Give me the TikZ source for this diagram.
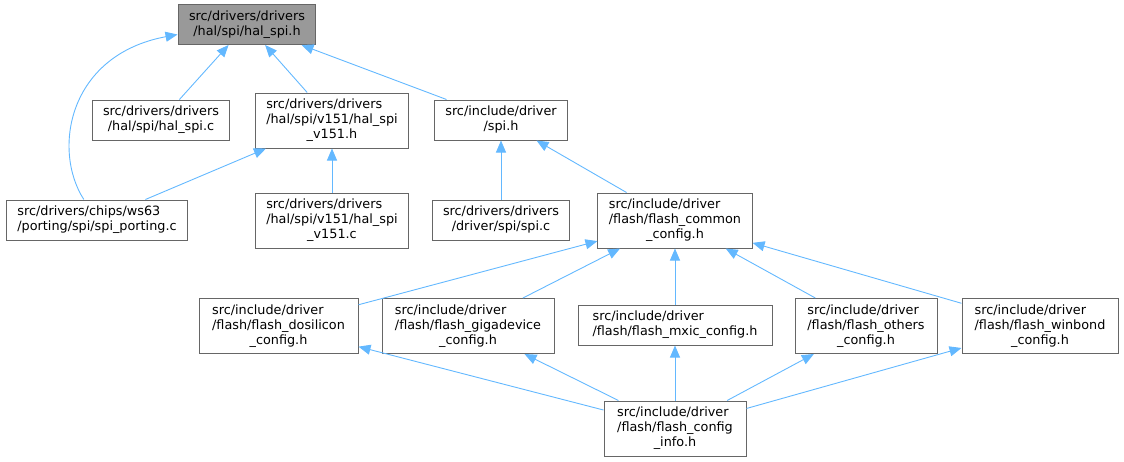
\documentclass[tikz,border=0pt]{standalone}
\usepackage{fontspec}
\setmainfont{DejaVu Sans}
\usepackage{tikz}
\usetikzlibrary{arrows.meta}
\definecolor{EdgeColor}{HTML}{63B8FF}
\definecolor{BorderColor}{HTML}{666666}
\definecolor{RootColor}{HTML}{999999}
\tikzstyle{file} = [draw=BorderColor, line width=1pt, fill=white, inner xsep=11pt, inner ysep=5pt, font=\fontsize{12.8}{15}\selectfont]
\tikzstyle{root} = [file, fill=RootColor]
\tikzstyle{arrow} = [EdgeColor, line width=0.9pt, -{Triangle[length=12pt, width=10pt]}]
% left lines, last line centred
\newcommand{\fname}[2]{\begin{tabular}{@{}l@{}}#1\\\multicolumn{1}{@{}c@{}}{#2}\end{tabular}}

\begin{document}
\begin{tikzpicture}[x=1pt, y=-1pt]
    \useasboundingbox (0,0) rectangle (1124,461);
    % Include graph of hal_spi.h
    \node[root] (halspih) at (247,24.5) {\fname{src/drivers/drivers}{/hal/spi/hal\_spi.h}};

    \node[file] (halspic) at (161,120) {\fname{src/drivers/drivers}{/hal/spi/hal\_spi.c}};
    \node[file] (v151h) at (332,120.5) {\fname{src/drivers/drivers\\/hal/spi/v151/hal\_spi}{\_v151.h}};
    \node[file] (spih) at (501,120) {\fname{src/include/driver}{/spi.h}};

    \node[file] (porting) at (97,220) {\fname{src/drivers/chips/ws63}{/porting/spi/spi\_porting.c}};
    \node[file] (v151c) at (332,220.5) {\fname{src/drivers/drivers\\/hal/spi/v151/hal\_spi}{\_v151.c}};
    \node[file] (spic) at (501,220) {\fname{src/drivers/drivers}{/driver/spi/spi.c}};
    \node[file] (common) at (675,220.5) {\fname{src/include/driver\\/flash/flash\_common}{\_config.h}};

    \node[file, minimum width=159pt] (dosilicon) at (278.5,326) {\fname{src/include/driver\\/flash/flash\_dosilicon}{\_config.h}};
    \node[file, minimum width=172pt] (gigadevice) at (468,326) {\fname{src/include/driver\\/flash/flash\_gigadevice}{\_config.h}};
    \node[file, minimum width=194pt] (mxic) at (675,325) {\fname{src/include/driver}{/flash/flash\_mxic\_config.h}};
    \node[file, minimum width=142pt] (others) at (866,326) {\fname{src/include/driver\\/flash/flash\_others}{\_config.h}};
    \node[file, minimum width=156pt] (winbond) at (1040,326) {\fname{src/include/driver\\/flash/flash\_winbond}{\_config.h}};

    \node[file, minimum width=142pt] (info) at (675,428.5) {\fname{src/include/driver\\/flash/flash\_config}{\_info.h}};

    % edges point to the included file
    \draw[arrow] (halspic) -- (halspih);
    \draw[arrow] (v151h) -- (halspih);
    \draw[arrow] (spih) -- (halspih);
    \draw[arrow] (porting) .. controls (52,150) and (68,55) .. ([yshift=-10pt]halspih.west);
    \draw[arrow] (porting) -- (v151h);
    \draw[arrow] (v151c) -- (v151h);
    \draw[arrow] (spic) -- (spih);
    \draw[arrow] (common) -- (spih);

    \draw[arrow] (dosilicon) -- (common);
    \draw[arrow] (gigadevice) -- (common);
    \draw[arrow] (mxic) -- (common);
    \draw[arrow] (others) -- (common);
    \draw[arrow] (winbond) -- (common);

    \draw[arrow] (info) -- (dosilicon);
    \draw[arrow] (info) -- (gigadevice);
    \draw[arrow] (info) -- (mxic);
    \draw[arrow] (info) -- (others);
    \draw[arrow] (info) -- (winbond);
\end{tikzpicture}
\end{document}
